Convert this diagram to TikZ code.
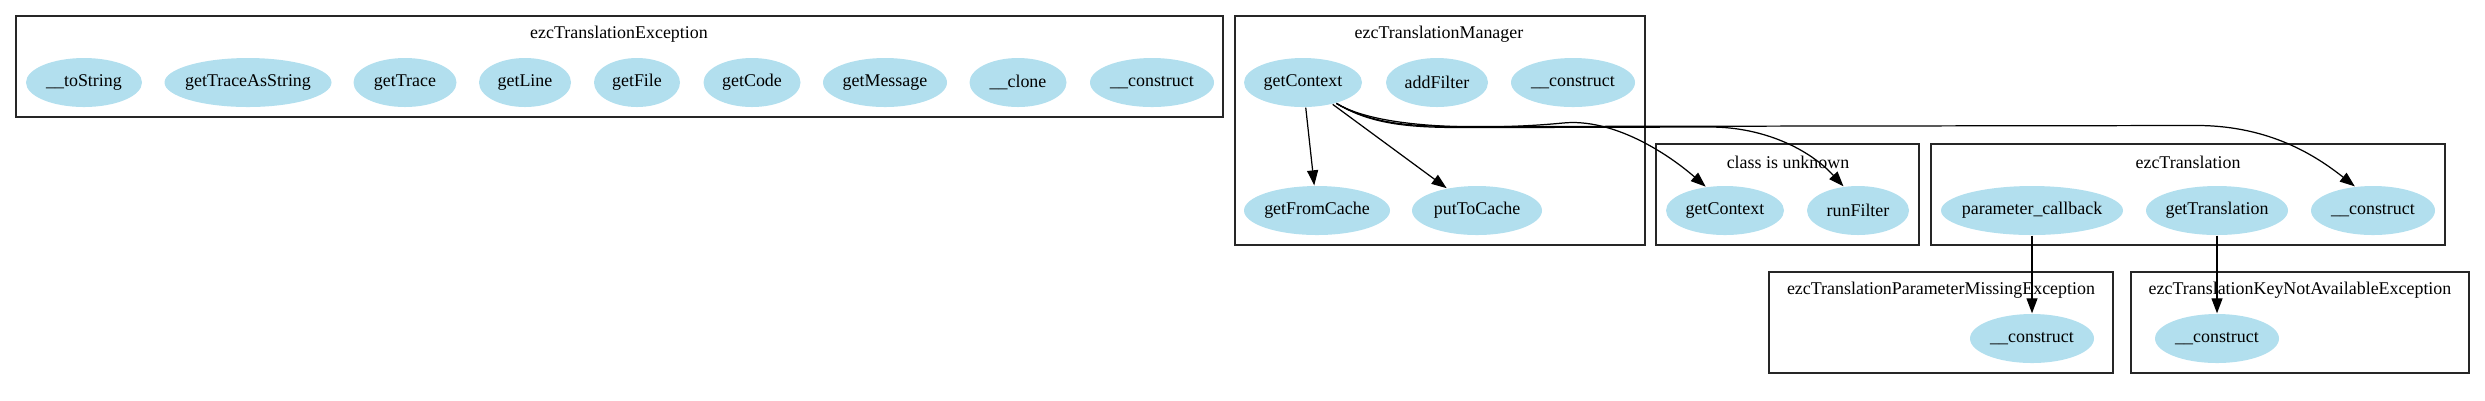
\documentclass[tikz,border=0pt]{standalone}
\usepackage{fontspec}
\setmainfont{Liberation Serif}
\usepackage{tikz}
\usetikzlibrary{positioning,arrows.meta,shapes.geometric}
\definecolor{methblue}{RGB}{178,223,238}
\newcommand{\mlab}[1]{\makebox[0pt]{#1}}
\tikzset{
  >={Triangle[length=1.5mm,width=1.1mm]},
  meth/.style={ellipse,fill=methblue,inner sep=0pt,minimum height=4.9mm,
    font=\fontsize{5.1}{6}\selectfont},
  clus/.style={draw=black!85,line width=0.4pt},
  clustitle/.style={font=\fontsize{5.1}{6}\selectfont,inner sep=0pt},
  call/.style={->,line width=0.35pt},
}

\begin{document}
\begin{tikzpicture}
  \useasboundingbox (0,0) rectangle (24.85,-4);
  % ezcTranslationException
  \draw[clus] (0.16,-0.16) rectangle (12.23,-1.17);
  \node[clustitle] (extitle) at (6.19,-0.34) {ezcTranslationException};
  \node[meth,minimum width=11.6mm] (ex_tostring) at (0.84,-0.825)  {\mlab{\_\_toString}};
  \node[meth,minimum width=16.7mm] (ex_traceas)  at (2.48,-0.825)  {\mlab{getTraceAsString}};
  \node[meth,minimum width=10.3mm] (ex_trace)    at (4.05,-0.825)  {\mlab{getTrace}};
  \node[meth,minimum width=9.2mm]  (ex_line)     at (5.25,-0.825)  {\mlab{getLine}};
  \node[meth,minimum width=8.6mm]  (ex_file)     at (6.37,-0.825)  {\mlab{getFile}};
  \node[meth,minimum width=9.7mm]  (ex_code)     at (7.52,-0.825)  {\mlab{getCode}};
  \node[meth,minimum width=12.4mm] (ex_msg)      at (8.85,-0.825)  {\mlab{getMessage}};
  \node[meth,minimum width=9.7mm]  (ex_clone)    at (10.18,-0.825) {\mlab{\_\_clone}};
  \node[meth,minimum width=12.4mm] (ex_cons)     at (11.52,-0.825) {\mlab{\_\_construct}};
  % ezcTranslationManager
  \draw[clus] (12.35,-0.16) rectangle (16.45,-2.45);
  \node[clustitle] (mgtitle) at (14.39,-0.34) {ezcTranslationManager};
  \node[meth,minimum width=11.8mm] (mg_getctx) at (13.03,-0.825) {\mlab{getContext}};
  \node[meth,minimum width=10.2mm] (mg_addf)   at (14.37,-0.825) {\mlab{addFilter}};
  \node[meth,minimum width=12.4mm] (mg_cons)   at (15.73,-0.825) {\mlab{\_\_construct}};
  \node[meth,minimum width=14.6mm] (mg_fromc)  at (13.17,-2.105) {\mlab{getFromCache}};
  \node[meth,minimum width=13.0mm] (mg_putc)   at (14.77,-2.105) {\mlab{putToCache}};
  % class is unknown
  \draw[clus] (16.56,-1.44) rectangle (19.19,-2.45);
  \node[clustitle] (untitle) at (17.88,-1.62) {class is unknown};
  \node[meth,minimum width=11.8mm] (un_getctx) at (17.25,-2.105) {\mlab{getContext}};
  \node[meth,minimum width=10.2mm] (un_runf)   at (18.58,-2.105) {\mlab{runFilter}};
  % ezcTranslation
  \draw[clus] (19.31,-1.44) rectangle (24.45,-2.45);
  \node[clustitle] (trtitle) at (21.88,-1.62) {ezcTranslation};
  \node[meth,minimum width=18.2mm] (tr_param) at (20.32,-2.105) {\mlab{parameter\_callback}};
  \node[meth,minimum width=14.2mm] (tr_gettr) at (22.17,-2.105) {\mlab{getTranslation}};
  \node[meth,minimum width=12.4mm] (tr_cons)  at (23.73,-2.105) {\mlab{\_\_construct}};
  % exceptions
  \draw[clus] (17.69,-2.72) rectangle (21.13,-3.73);
  \node[clustitle] (pmtitle) at (19.41,-2.90) {ezcTranslationParameterMissingException};
  \node[meth,minimum width=12.4mm] (pm_cons) at (20.32,-3.385) {\mlab{\_\_construct}};
  \draw[clus] (21.31,-2.72) rectangle (24.69,-3.73);
  \node[clustitle] (kntitle) at (23.00,-2.90) {ezcTranslationKeyNotAvailableException};
  \node[meth,minimum width=12.4mm] (kn_cons) at (22.17,-3.385) {\mlab{\_\_construct}};

  \draw[call] (mg_getctx) -- (mg_fromc);
  \draw[call] (mg_getctx) -- (mg_putc);
  \draw[call] (mg_getctx.-32) .. controls (13.8,-1.30) and (14.9,-1.30) .. (15.63,-1.23)
    .. controls (16.13,-1.18) and (16.67,-1.53) .. (un_getctx.129);
  \draw[call] (mg_getctx.-32) .. controls (13.8,-1.30) and (14.3,-1.275) .. (15.0,-1.275)
    -- (17.1,-1.27) .. controls (17.65,-1.27) and (18.1,-1.5) .. (un_runf.121);
  \draw[call] (mg_getctx.-32) .. controls (13.8,-1.29) and (14.3,-1.265) .. (15.0,-1.265)
    -- (22.0,-1.255) .. controls (22.7,-1.265) and (23.15,-1.55) .. (tr_cons.127);
  \draw[call] (tr_param) -- (pm_cons);
  \draw[call] (tr_gettr) -- (kn_cons);
\end{tikzpicture}
\end{document}
